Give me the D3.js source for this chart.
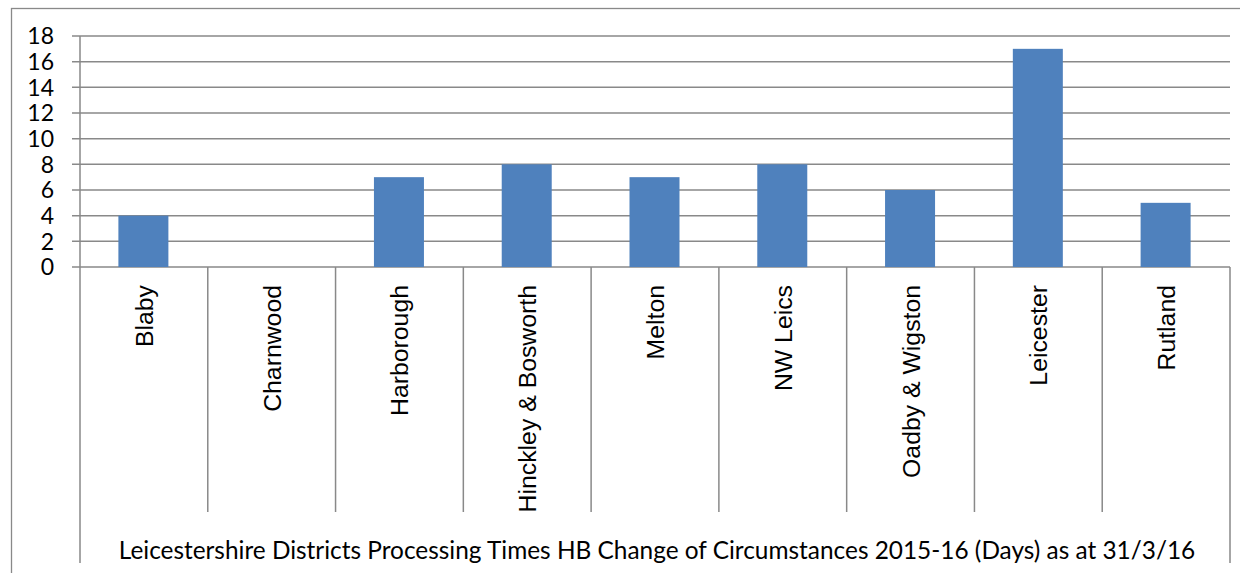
<!DOCTYPE html>
<html lang="en">
<head>
<meta charset="utf-8">
<title>Processing Times</title>
<script src="https://cdn.jsdelivr.net/npm/d3@7"></script>
<style>
  body { margin: 0; background: #fff; }
  svg { display: block; }
</style>
</head>
<body>
<script>
var w = 1240, h = 573;

// data
var districts = ["Blaby", "Charnwood", "Harborough", "Hinckley & Bosworth", "Melton",
                 "NW Leics", "Oadby & Wigston", "Leicester", "Rutland"];
var days = [4, 0, 7, 8, 7, 8, 6, 17, 5];
var yTicks = [0, 2, 4, 6, 8, 10, 12, 14, 16, 18];
var title = "Leicestershire Districts Processing Times HB Change of Circumstances 2015-16 (Days) as at 31/3/16";

var plotLeft = 80, plotRight = 1230, plotTop = 36, zero = 267;
var divBottom = 512, axisBottom = 563;
var grey = "#898989";

var svg = d3.select("body").append("svg")
  .attr("width", w).attr("height", h);

// outer chart border
svg.append("rect")
  .attr("x", 11.5).attr("y", 8.5)
  .attr("width", 1300).attr("height", 700)
  .attr("fill", "none").attr("stroke", grey).attr("stroke-width", 1.3);

var x = d3.scaleBand().domain(districts).range([plotLeft, plotRight]);
var y = d3.scaleLinear().domain([0, 18]).range([zero, plotTop]);

// gridlines + ticks
svg.selectAll("line.grid")
  .data(yTicks)
  .enter().append("line")
  .attr("x1", plotLeft - 8).attr("x2", plotRight)
  .attr("y1", function(d) { return y(d); })
  .attr("y2", function(d) { return y(d); })
  .attr("stroke", grey).attr("stroke-width", 1.5);

svg.selectAll("text.ytick")
  .data(yTicks)
  .enter().append("text")
  .text(function(d) { return d; })
  .attr("x", 54)
  .attr("y", function(d) { return y(d); })
  .attr("dy", "0.36em")
  .attr("text-anchor", "end")
  .attr("font-family", "Lato, 'Open Sans', sans-serif")
  .attr("font-size", "23px")
  .attr("fill", "#000");

// bars
var bw = 50;
svg.selectAll("rect.bar")
  .data(days)
  .enter().append("rect")
  .attr("x", function(d, i) { return x(districts[i]) + x.bandwidth() / 2 - bw / 2 - 0.5; })
  .attr("y", function(d) { return y(d); })
  .attr("width", bw)
  .attr("height", function(d) { return zero - y(d); })
  .attr("fill", "#4F81BD");

// y axis line
svg.append("line")
  .attr("x1", plotLeft).attr("x2", plotLeft)
  .attr("y1", plotTop).attr("y2", axisBottom)
  .attr("stroke", grey).attr("stroke-width", 1.5);

// category dividers
svg.selectAll("line.div")
  .data(districts.slice(1))
  .enter().append("line")
  .attr("x1", function(d) { return x(d); })
  .attr("x2", function(d) { return x(d); })
  .attr("y1", zero).attr("y2", divBottom)
  .attr("stroke", grey).attr("stroke-width", 1.5);

svg.append("line")
  .attr("x1", plotRight).attr("x2", plotRight)
  .attr("y1", zero).attr("y2", axisBottom)
  .attr("stroke", grey).attr("stroke-width", 1.5);

// category labels, rotated
svg.selectAll("text.cat")
  .data(districts)
  .enter().append("text")
  .text(function(d) { return d; })
  .attr("transform", function(d) {
    return "translate(" + (x(d) + x.bandwidth() / 2 + 9) + "," + 285 + ") rotate(-90)";
  })
  .attr("text-anchor", "end")
  .attr("font-family", "'Liberation Sans', Arial, sans-serif")
  .attr("font-size", "24.8px")
  .attr("fill", "#000");

// group label
svg.append("text")
  .text(title)
  .attr("x", 657).attr("y", 559)
  .attr("text-anchor", "middle")
  .attr("font-family", "Lato, 'Open Sans', sans-serif")
  .attr("font-size", "24.4px")
  .attr("fill", "#000");
</script>
</body>
</html>
